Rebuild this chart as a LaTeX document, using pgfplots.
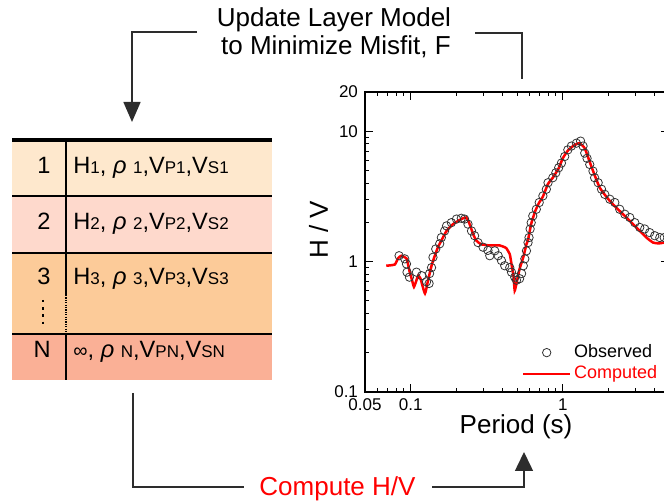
\documentclass[border=0pt]{standalone}
\usepackage{pgfplots}
\pgfplotsset{compat=1.18}
\usepackage{fontspec}
\setmainfont{Liberation Sans}
\usetikzlibrary{arrows.meta}
\definecolor{rowA}{RGB}{254,232,205}
\definecolor{rowB}{RGB}{254,217,204}
\definecolor{rowC}{RGB}{252,203,153}
\definecolor{rowD}{RGB}{250,176,150}
\definecolor{brk}{RGB}{45,45,45}
\newcommand{\sm}[1]{{\fontsize{8.5}{9}\selectfont #1}}
\pgfplotsset{
  obsleg/.style={legend image code/.code={\draw[mark repeat=2,mark phase=2,##1] plot coordinates {(0pt,0pt) (11.75pt,0pt) (23.5pt,0pt)};}},
  compleg/.style={legend image code/.code={\draw[##1] (0pt,0pt) -- (23.5pt,0pt);}},
}
\begin{document}
\begin{tikzpicture}[x=0.5pt,y=-0.5pt]
\path[use as bounding box, clip] (0,0) rectangle (664,501);
\coordinate (axO) at (365,392);
% ---- layer table ----
\fill[rowA] (12,140) rectangle (272,196);
\fill[rowB] (12,196) rectangle (272,253);
\fill[rowC] (12,253) rectangle (272,334);
\fill[rowD] (12,334) rectangle (272,380);
\draw[line width=0.7pt] (12,196) -- (272,196);
\draw[line width=0.7pt] (12,253) -- (272,253);
\draw[line width=0.7pt] (12,334) -- (272,334);
\draw[line width=1.6pt] (12,140) -- (272,140);
\draw[line width=0.7pt] (66,140) -- (66,295);
\draw[line width=0.7pt, dash pattern=on 0.6pt off 0.6pt] (66,295) -- (66,332);
\draw[line width=0.7pt] (66,334) -- (66,380);
\draw[line width=1.2pt, dash pattern=on 1.2pt off 2.4pt] (43,300) -- (43,324);
\begin{scope}[every node/.style={font=\fontsize{11.8}{13}\selectfont, inner sep=0pt}]
\node[anchor=base east] at (51,174) {1};
\node[anchor=base east] at (51,230) {2};
\node[anchor=base east] at (51,285) {3};
\node[anchor=base east] at (51,358) {N};
\node[anchor=base west] at (73,174) {H\sm{1}, \textit{ρ} \sm{1},V\sm{P1},V\sm{S1}};
\node[anchor=base west] at (73,230) {H\sm{2}, \textit{ρ} \sm{2},V\sm{P2},V\sm{S2}};
\node[anchor=base west] at (73,285) {H\sm{3}, \textit{ρ} \sm{3},V\sm{P3},V\sm{S3}};
\node[anchor=base west] at (73,358) {{\fontsize{10}{11}\selectfont ∞}, \textit{ρ} \sm{N},V\sm{PN},V\sm{SN}};
\end{scope}
% ---- captions and arrows ----
\node[anchor=base, font=\fontsize{13}{15}\selectfont] at (334,27) {Update Layer Model};
\node[anchor=base, font=\fontsize{13}{15}\selectfont] at (336,55) {to Minimize Misfit, F};
\draw[brk, line width=0.75pt, -{Triangle[length=10pt,width=8.5pt]}] (197,32) -| (132,122);
\draw[brk, line width=0.75pt] (475,33) -| (522,79);
\draw[brk, line width=0.75pt] (133,393) |- (244,487);
\node[anchor=base, text=red, font=\fontsize{13}{15}\selectfont] at (337.5,496) {Compute H/V};
\draw[brk, line width=0.75pt, -{Triangle[length=9.5pt,width=9pt]}] (432,487) -| (524,452);
% ---- H/V chart ----
\begin{axis}[
  at={(axO)}, anchor=south west,
  scale only axis, width=152pt, height=150pt,
  xmode=log, ymode=log,
  xmin=0.05, xmax=5, ymin=0.1, ymax=20,
  xtick={0.05,0.1,1}, xticklabels={0.05,0.1,1},
  ytick={0.1,1,10,20}, yticklabels={0.1,1,10,20},
  minor xtick={0.06,0.07,0.08,0.09,0.2,0.3,0.4,0.5,0.6,0.7,0.8,0.9,2,3,4},
  minor ytick={0.2,0.3,0.4,0.5,0.6,0.7,0.8,0.9,2,3,4,5,6,7,8,9},
  tick align=inside, major tick length=4pt, minor tick length=2.2pt,
  every tick/.style={black, line width=0.5pt},
  axis line style={line width=0.9pt},
  tick label style={font=\fontsize{8.5}{10}\selectfont},
  /pgf/number format/assume math mode=true,
  xlabel={Period (s)}, ylabel={H / V},
  label style={font=\fontsize{13}{15}\selectfont},
  xlabel style={at={(axis description cs:0.497,-0.14)}, anchor=base},
  ylabel style={at={(axis description cs:-0.153,0.54)}, anchor=center},
  legend style={at={(axis description cs:0.515,0.168)}, anchor=north west, draw=none, fill=none,
    font=\fontsize{9}{10}\selectfont, inner sep=0pt, row sep=0pt, nodes={inner sep=1.3pt}},
  legend cell align=left,
]
\addplot[only marks, mark=o, mark size=2.1pt, black!80, mark options={line width=0.4pt}, obsleg]
coordinates {
(0.0838,1.11) (0.0913,1.05) (0.0937,0.96) (0.0945,0.83) (0.098,0.76) (0.109,0.83)
(0.118,0.78) (0.127,0.70) (0.132,0.68) (0.133,0.81) (0.137,0.90) (0.140,1.08)
(0.146,1.25) (0.155,1.37) (0.159,1.53) (0.167,1.72) (0.172,1.88) (0.185,1.99)
(0.200,2.12) (0.215,2.15) (0.226,2.12) (0.238,1.94) (0.251,1.72) (0.263,1.58)
(0.277,1.40) (0.299,1.29) (0.322,1.22) (0.331,1.11) (0.357,1.21) (0.376,1.11)
(0.395,1.02) (0.415,0.93) (0.448,0.90) (0.46,0.83) (0.483,0.76) (0.496,0.72)
(0.52,0.74) (0.536,0.81) (0.55,0.93) (0.563,1.05) (0.577,1.21) (0.591,1.40)
(0.60,1.53) (0.61,1.78) (0.62,1.99) (0.635,2.24) (0.67,2.52) (0.70,2.84)
(0.74,3.19) (0.78,3.59) (0.80,4.03) (0.86,4.4) (0.90,4.8) (0.94,5.25)
(0.98,5.7) (1.03,6.4) (1.08,7.2) (1.14,7.7) (1.23,8.1) (1.31,8.4)
(1.36,7.7) (1.395,6.8) (1.445,6.2) (1.505,5.56) (1.58,4.95) (1.62,4.4)
(1.71,4.03) (1.80,3.59) (1.89,3.28) (2.04,3.01) (2.20,2.84) (2.37,2.52)
(2.56,2.31) (2.76,2.18) (2.98,1.99) (3.21,1.83) (3.46,1.78) (3.73,1.67)
(4.03,1.58) (4.35,1.53) (4.65,1.53)
};
\addlegendentry{Observed}
\addplot[red, line width=1.25pt, smooth, tension=0.3, compleg]
coordinates {
(0.069,0.93) (0.0785,0.95) (0.0825,1.06) (0.0868,1.11) (0.094,1.05) (0.098,0.85)
(0.102,0.72) (0.105,0.64) (0.109,0.72) (0.112,0.78) (0.116,0.74) (0.124,0.57)
(0.13,0.72) (0.137,0.93) (0.144,1.11) (0.151,1.29) (0.159,1.45) (0.172,1.72)
(0.19,1.94) (0.215,2.12) (0.232,2.18) (0.244,1.94) (0.257,1.63) (0.27,1.45)
(0.29,1.36) (0.331,1.33) (0.385,1.33) (0.415,1.29) (0.425,1.27) (0.448,1.14)
(0.46,0.96) (0.475,0.76) (0.483,0.60) (0.496,0.68) (0.52,0.88) (0.55,1.08)
(0.577,1.36) (0.59,1.45) (0.62,1.95) (0.66,2.45) (0.70,2.84) (0.74,3.15)
(0.80,3.95) (0.86,4.4) (0.94,5.2) (1.0,6.2) (1.08,7.1) (1.17,7.7)
(1.28,8.1) (1.395,7.4) (1.54,5.4) (1.75,3.7) (2.04,2.92) (2.49,2.31)
(3.05,1.83) (3.55,1.53) (3.93,1.40) (4.3,1.38) (5.0,1.42)
};
\addlegendentry{\textcolor{red}{Computed}}
\end{axis}
\end{tikzpicture}
\end{document}
